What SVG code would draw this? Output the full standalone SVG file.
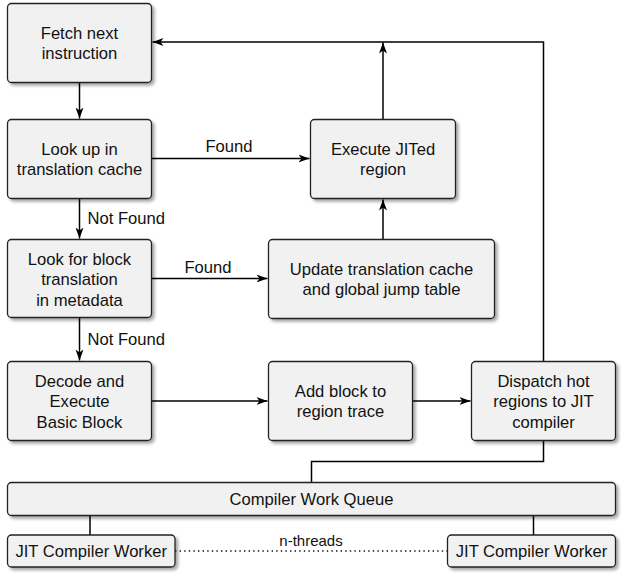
<svg xmlns="http://www.w3.org/2000/svg" width="624" height="579" viewBox="0 0 624 579">
  <defs>
    <filter id="sh" x="-10%" y="-10%" width="130%" height="140%">
      <feDropShadow dx="2.5" dy="2.5" stdDeviation="1.5" flood-color="#000" flood-opacity="0.35"/>
    </filter>
    <marker id="arr" markerUnits="userSpaceOnUse" markerWidth="12" markerHeight="10" refX="11" refY="5" orient="auto">
      <path d="M0,1 L11,5 L0,9 L3,5 Z" fill="#000"/>
    </marker>
  </defs>
  <style>
    .box { fill: #f1f1f1; stroke: #222; stroke-width: 1.3; filter: url(#sh); }
    .t { font-family: "Liberation Sans", Arial, sans-serif; font-size: 16.6px; fill: #111; text-anchor: middle; }
    .lbl { font-family: "Liberation Sans", Arial, sans-serif; font-size: 16.6px; fill: #111; }
    .ln { fill: none; stroke: #000; stroke-width: 1.5; }
  </style>
  <rect width="624" height="579" fill="#fff"/>

  <g id="connectors">
    <path class="ln" d="M79.5,82.5 V118.5" marker-end="url(#arr)"/>
    <path class="ln" d="M151.5,158.5 H309.5" marker-end="url(#arr)"/>
    <path class="ln" d="M79.5,198.5 V238.5" marker-end="url(#arr)"/>
    <path class="ln" d="M151.5,278.5 H267.5" marker-end="url(#arr)"/>
    <path class="ln" d="M79.5,317.5 V360.5" marker-end="url(#arr)"/>
    <path class="ln" d="M151.5,401 H267.5" marker-end="url(#arr)"/>
    <path class="ln" d="M412.5,401 H470.5" marker-end="url(#arr)"/>
    <path class="ln" d="M383,239.5 V199.5" marker-end="url(#arr)"/>
    <path class="ln" d="M383,119.5 V42.5" marker-end="url(#arr)"/>
    <path class="ln" d="M543.5,361.5 V42 H152.5" marker-end="url(#arr)"/>
    <path class="ln" d="M543.5,440.5 V461.5 H311.5 V482.5"/>
    <path class="ln" d="M90,515.5 V535"/>
    <path class="ln" d="M533.5,515.5 V535"/>
    <path d="M175,551 H447.5" fill="none" stroke="#111" stroke-width="1.4" stroke-dasharray="1.4,3.2"/>
    <text class="lbl" x="229" y="152" text-anchor="middle">Found</text>
    <text class="lbl" x="208" y="273" text-anchor="middle">Found</text>
    <text class="lbl" x="87.5" y="224">Not Found</text>
    <text class="lbl" x="87.5" y="345">Not Found</text>
    <text class="lbl" x="311" y="546" text-anchor="middle" style="font-size:15px">n-threads</text>
  </g>

  <g id="fetch">
    <rect class="box" x="7.5" y="3.5" width="144" height="79" rx="4"/>
    <text class="t" x="79.5" y="39">Fetch next</text>
    <text class="t" x="79.5" y="59">instruction</text>
  </g>
  <g id="lookup">
    <rect class="box" x="7.5" y="119.5" width="144" height="79" rx="4"/>
    <text class="t" x="79.5" y="155">Look up in</text>
    <text class="t" x="79.5" y="175">translation cache</text>
  </g>
  <g id="lookfor">
    <rect class="box" x="7.5" y="239.5" width="144" height="78" rx="4"/>
    <text class="t" x="79.5" y="264.5">Look for block</text>
    <text class="t" x="79.5" y="285">translation</text>
    <text class="t" x="79.5" y="305.5">in metadata</text>
  </g>
  <g id="decode">
    <rect class="box" x="7.5" y="361.5" width="144" height="79" rx="4"/>
    <text class="t" x="79.5" y="386.5">Decode and</text>
    <text class="t" x="79.5" y="407">Execute</text>
    <text class="t" x="79.5" y="427.5">Basic Block</text>
  </g>
  <g id="execute">
    <rect class="box" x="310.5" y="119.5" width="145" height="79" rx="4"/>
    <text class="t" x="383" y="155">Execute JITed</text>
    <text class="t" x="383" y="175">region</text>
  </g>
  <g id="update">
    <rect class="box" x="268.5" y="239.5" width="226" height="79" rx="4"/>
    <text class="t" x="381.5" y="275">Update translation cache</text>
    <text class="t" x="381.5" y="295">and global jump table</text>
  </g>
  <g id="addblock">
    <rect class="box" x="268.5" y="361.5" width="144" height="79" rx="4"/>
    <text class="t" x="340.5" y="397">Add block to</text>
    <text class="t" x="340.5" y="417">region trace</text>
  </g>
  <g id="dispatch">
    <rect class="box" x="471.5" y="361.5" width="144" height="79" rx="4"/>
    <text class="t" x="543.5" y="386.5">Dispatch hot</text>
    <text class="t" x="543.5" y="407">regions to JIT</text>
    <text class="t" x="543.5" y="427.5">compiler</text>
  </g>
  <g id="queue">
    <rect class="box" x="7.5" y="482.5" width="608" height="33" rx="4"/>
    <text class="t" x="311.5" y="505">Compiler Work Queue</text>
  </g>
  <g id="worker1">
    <rect class="box" x="7.5" y="535" width="167.5" height="32" rx="4"/>
    <text class="t" x="91.2" y="557">JIT Compiler Worker</text>
  </g>
  <g id="worker2">
    <rect class="box" x="447.5" y="535" width="168" height="32" rx="4"/>
    <text class="t" x="531.5" y="557">JIT Compiler Worker</text>
  </g>
</svg>
